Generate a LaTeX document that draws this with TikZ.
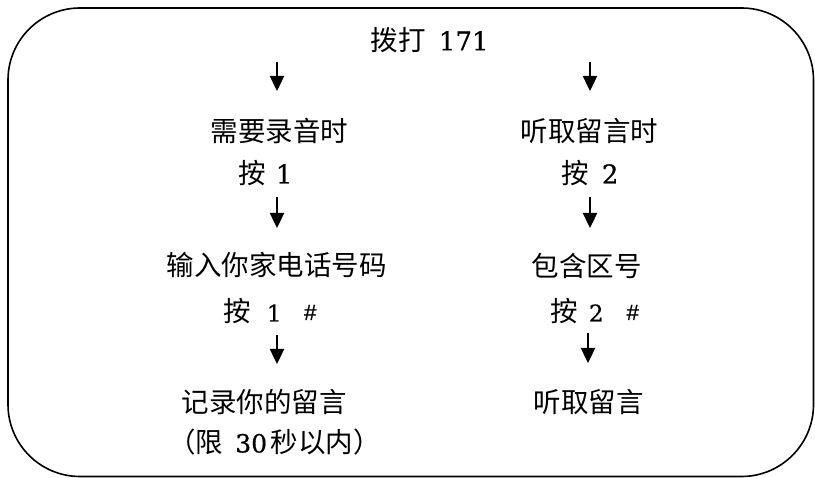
\documentclass[tikz,border=0pt]{standalone}
\usepackage{fontspec}
\newfontfamily\cjk{Noto Sans CJK SC}
\newfontfamily\digitfont[FakeBold=0.6]{DejaVu Serif}
\newfontfamily\hashfont[FakeBold=0.8]{Liberation Sans}
\usetikzlibrary{arrows.meta}
\newcommand\zh[1]{{\cjk #1}}
\newcommand\dg[2]{{\digitfont\fontsize{#1}{#1}\selectfont #2}}
\newcommand\hs{\raisebox{1.5pt}{\hashfont\fontsize{22}{22}\selectfont\#}}
\begin{document}
\begin{tikzpicture}[x=1pt,y=-1pt,
  lbl/.style={inner sep=0pt,anchor=west,font=\fontsize{27.5}{30}\selectfont},
  flow/.style={line width=2.4pt,-{Triangle[width=14pt,length=15pt]}}]
\useasboundingbox (0,0) rectangle (815,478);
\draw[line width=1.6pt,rounded corners=72pt] (8,8) rectangle (813.5,476.5);
% top
\node[lbl] (dial) at (370.5,40) {\zh{拨打}\hspace{13.2pt}\dg{26}{171}};
% left column
\node[lbl] (rec) at (210.5,131) {\zh{需要录音时}};
\node[lbl] (p1) at (238.5,173) {\zh{按}\hspace{9.7pt}\dg{26}{1}};
\node[lbl] (num) at (166.5,265) {\zh{输入你家电话号码}};
\node[lbl] (p1h) at (223.5,311) {\zh{按}\hspace{15.7pt}\dg{23}{1}\hspace{22.6pt}\hs};
\node[lbl] (msg) at (181.5,402) {\zh{记录你的留言}};
\node[lbl] (lim) at (168,442) {\zh{（限}\hspace{12.1pt}\dg{25}{30}\hspace{3.6pt}\zh{秒以内）}};
% right column
\node[lbl] (lis) at (520.5,131) {\zh{听取留言时}};
\node[lbl] (p2) at (561.5,173) {\zh{按}\hspace{12.7pt}\dg{26}{2}};
\node[lbl] (area) at (531.5,266) {\zh{包含区号}};
\node[lbl] (p2h) at (550.5,311) {\zh{按}\hspace{10.7pt}\dg{23}{2}\hspace{23.1pt}\hs};
\node[lbl] (get) at (533.5,402) {\zh{听取留言}};
% arrow end points
\coordinate (a1s) at (277,62);  \coordinate (a1e) at (277,91);
\coordinate (b1s) at (590,62);  \coordinate (b1e) at (590,91);
\coordinate (a2s) at (277,197); \coordinate (a2e) at (277,228);
\coordinate (b2s) at (590,197); \coordinate (b2e) at (590,228);
\coordinate (a3s) at (277,335); \coordinate (a3e) at (277,364);
\coordinate (b3s) at (588,333); \coordinate (b3e) at (588,363);
% arrows
\draw[flow] (a1s) -- (a1e);
\draw[flow] (b1s) -- (b1e);
\draw[flow] (a2s) -- (a2e);
\draw[flow] (b2s) -- (b2e);
\draw[flow] (a3s) -- (a3e);
\draw[flow] (b3s) -- (b3e);
\end{tikzpicture}
\end{document}
